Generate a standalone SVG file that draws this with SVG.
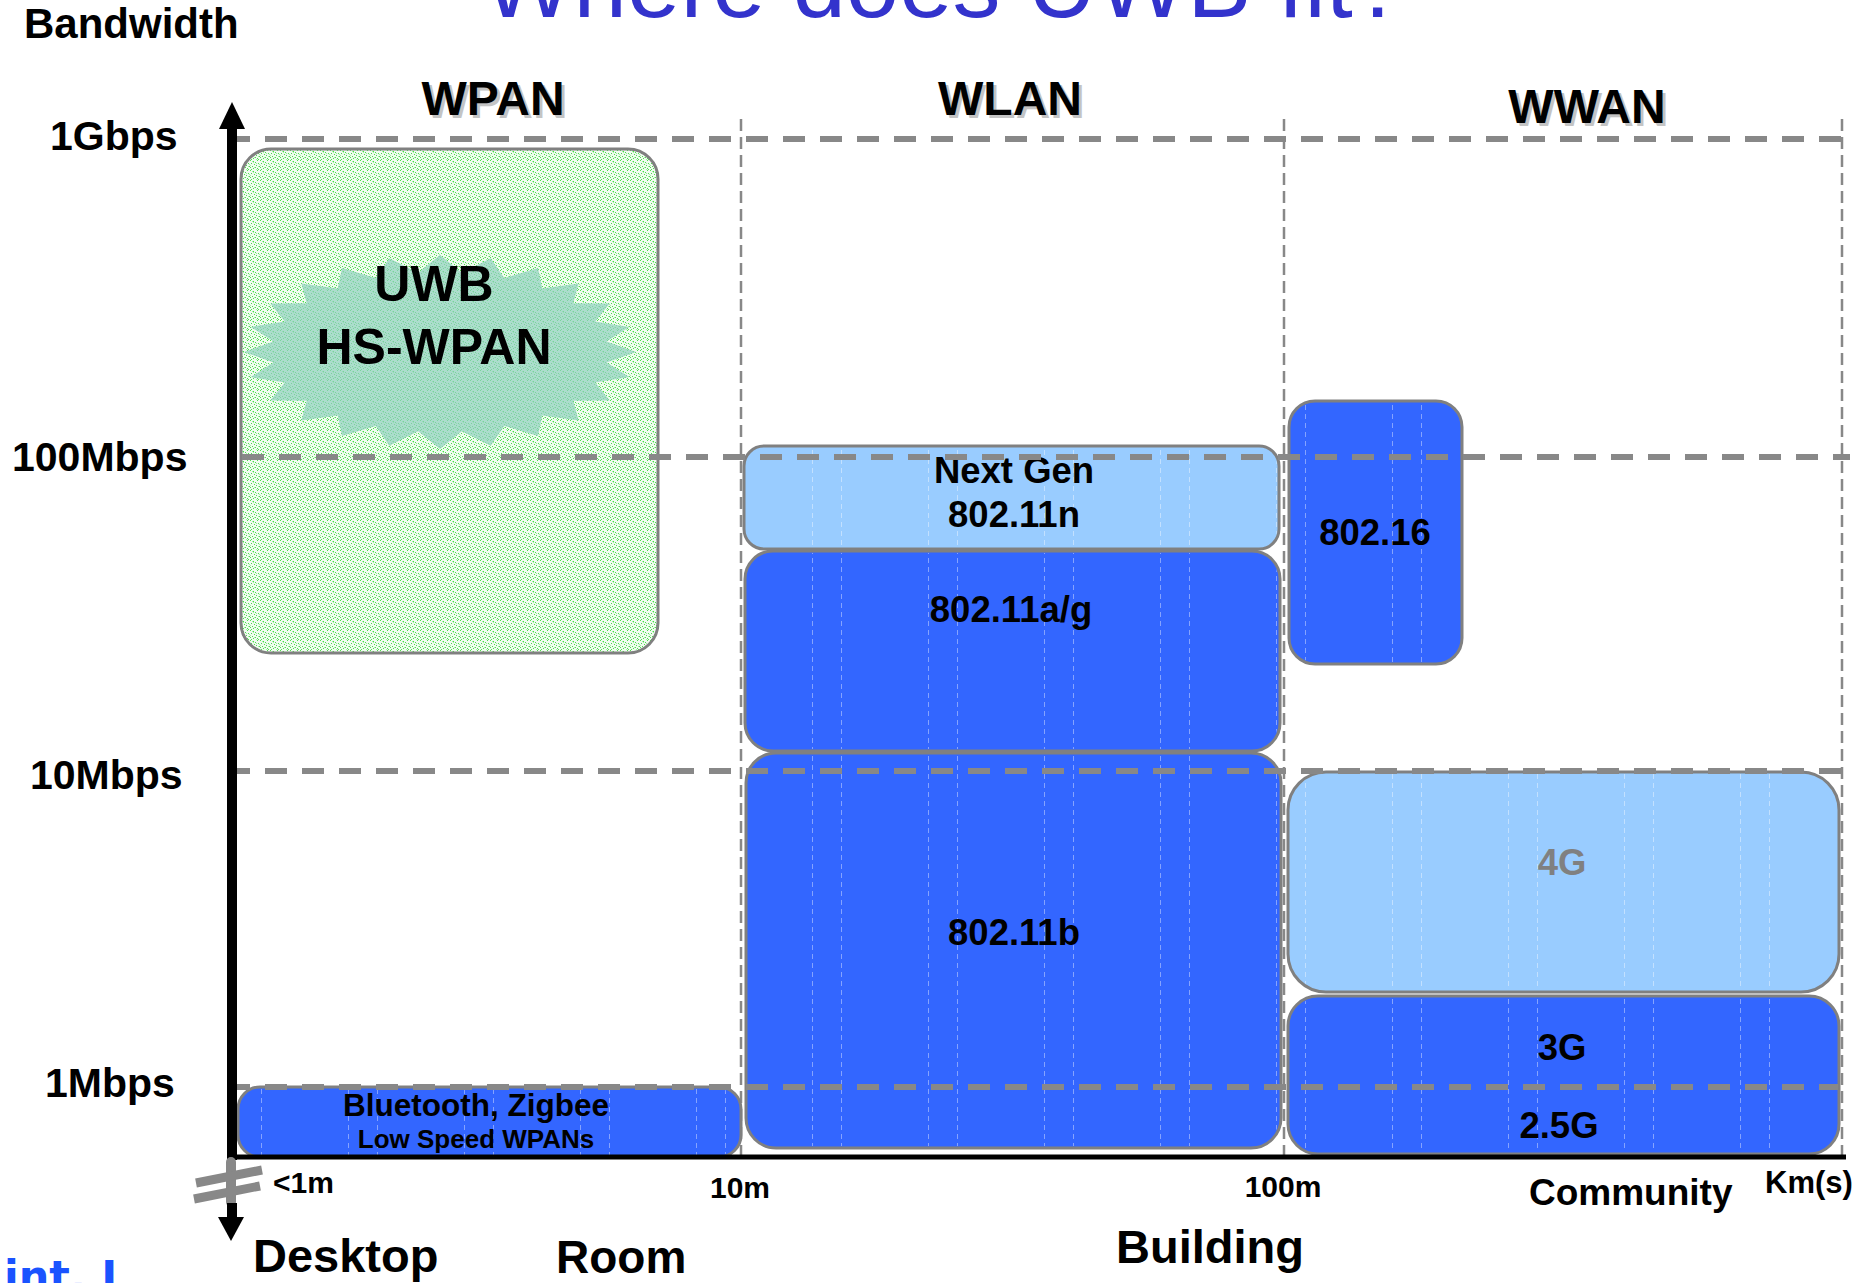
<svg xmlns="http://www.w3.org/2000/svg" width="1866" height="1283" viewBox="0 0 1866 1283">
<defs>
<style>
text{font-family:"Liberation Sans",Arial,Helvetica,sans-serif;font-weight:bold;fill:#000}
.title{font-weight:normal;fill:#3333cc;font-size:96px}
.ylab{font-size:41px}
.hdr{font-size:48px;text-anchor:middle}
.shadow{fill:#c4c4c4}
.lbl{font-size:36.5px;text-anchor:middle}
.xlab{font-size:30px}
.place{font-size:47px}
.box{stroke:#808080;stroke-width:3}
.blue{fill:#3366ff}
.lblue{fill:#99ccff}
.tex{fill:url(#tex);stroke:none}
.hgrid{stroke:#888;stroke-width:6;stroke-dasharray:22 15;fill:none}
.vgrid{stroke:#888;stroke-width:2.5;stroke-dasharray:12 6;fill:none}
.brk{stroke:#888;fill:none}
</style>
<pattern id="speck" width="10" height="10" patternUnits="userSpaceOnUse">
<rect width="10" height="10" fill="#f0fcf0"/>
<path d="M0 0h1v1h-1zM3 1h1v1h-1zM7 0h1v1h-1zM5 2h1v1h-1zM1 3h1v1h-1zM8 3h1v1h-1zM4 4h1v1h-1zM6 5h1v1h-1zM2 6h1v1h-1zM9 6h1v1h-1zM0 7h1v1h-1zM5 7h1v1h-1zM3 8h1v1h-1zM7 8h1v1h-1zM1 9h1v1h-1zM8 9h1v1h-1z" fill="#4ddc4d"/>
<path d="M2 1h1v1h-1zM6 3h1v1h-1zM0 5h1v1h-1zM8 6h1v1h-1zM4 7h1v1h-1zM6 9h1v1h-1zM9 4h1v1h-1zM3 2h1v1h-1z" fill="#a6f0a6"/>
</pattern>
<pattern id="tex" width="116" height="9" patternUnits="userSpaceOnUse">
<path d="M0.5 0v5M29.5 0v5" stroke="#ffffff" stroke-opacity="0.4" stroke-width="1"/>
</pattern>
</defs>
<rect width="1866" height="1283" fill="#ffffff"/>

<g id="title">
<text class="title" x="483" y="17">Where does UWB fit?</text>
</g>

<g id="vertical-grid">
<line class="vgrid" x1="741" y1="119" x2="741" y2="1157"/>
<line class="vgrid" x1="1284" y1="119" x2="1284" y2="1157"/>
<line class="vgrid" x1="1842" y1="119" x2="1842" y2="1157"/>
</g>

<g id="axis-labels">
<text x="24" y="38" style="font-size:42px">Bandwidth</text>
<text class="ylab" x="50" y="150">1Gbps</text>
<text class="ylab" x="12" y="471">100Mbps</text>
<text class="ylab" x="30" y="789">10Mbps</text>
<text class="ylab" x="45" y="1097">1Mbps</text>
<text class="xlab" x="273" y="1193">&lt;1m</text>
<text class="xlab" x="740" y="1198" text-anchor="middle">10m</text>
<text class="xlab" x="1283" y="1197" text-anchor="middle">100m</text>
<text class="xlab" x="1765" y="1193" style="font-size:31px">Km(s)</text>
<text x="1529" y="1205" style="font-size:37px">Community</text>
<text class="place" x="253" y="1272">Desktop</text>
<text class="place" x="556" y="1273" style="font-size:46px">Room</text>
<text class="place" x="1116" y="1263">Building</text>
</g>

<g id="headers">
<text class="hdr shadow" x="496" y="118">WPAN</text>
<text class="hdr" x="493" y="115">WPAN</text>
<text class="hdr shadow" x="1013" y="118">WLAN</text>
<text class="hdr" x="1010" y="115">WLAN</text>
<text class="hdr shadow" x="1590" y="126">WWAN</text>
<text class="hdr" x="1587" y="123">WWAN</text>
</g>

<g id="uwb">
<rect class="box" x="241" y="149" width="417" height="504" rx="30" fill="url(#speck)"/>
<polygon fill="#8fd0bd" fill-opacity="0.7" points="636,352 606.6,362.4 629.3,377.1 595.2,382.6 609.7,400.5 573.3,400.7 578.6,420.6 542.3,415.5 538,436 504.3,425.9 490.7,445.7 461.9,431.3 440,449 418.1,431.3 389.3,445.7 375.7,425.9 342,436 337.7,415.5 301.4,420.6 306.7,400.7 270.3,400.5 284.8,382.6 250.7,377.1 273.4,362.4 244,352 273.4,341.6 250.7,326.9 284.8,321.4 270.3,303.5 306.7,303.3 301.4,283.4 337.7,288.5 342,268 375.7,278.1 389.3,258.3 418.1,272.7 440,255 461.9,272.7 490.7,258.3 504.3,278.1 538,268 542.3,288.5 578.6,283.4 573.3,303.3 609.7,303.5 595.2,321.4 629.3,326.9 606.6,341.6"/>
<text x="434" y="301" style="font-size:50px" text-anchor="middle">UWB</text>
<text x="434" y="364" style="font-size:50px" text-anchor="middle">HS-WPAN</text>
</g>

<g id="n80211n">
<rect class="box lblue" x="744" y="446" width="535" height="103" rx="20"/>
<rect class="tex" x="746" y="448" width="531" height="99" rx="18"/>
<text class="lbl" x="1014" y="483">Next Gen</text>
<text class="lbl" x="1014" y="527">802.11n</text>
</g>

<g id="n80211ag">
<rect class="box blue" x="745" y="551" width="535" height="200" rx="28"/>
<rect class="tex" x="747" y="553" width="531" height="196" rx="26"/>
<text class="lbl" x="1011" y="622">802.11a/g</text>
</g>

<g id="n80211b">
<rect class="box blue" x="746" y="753" width="535" height="395" rx="30"/>
<rect class="tex" x="748" y="755" width="531" height="391" rx="28"/>
<text class="lbl" x="1014" y="945">802.11b</text>
</g>

<g id="bluetooth">
<rect class="box blue" x="238" y="1087" width="503" height="70" rx="22"/>
<rect class="tex" x="240" y="1089" width="499" height="66" rx="20"/>
<text x="476" y="1116" text-anchor="middle" style="font-size:31.5px">Bluetooth, Zigbee</text>
<text x="476" y="1148" text-anchor="middle" style="font-size:26px">Low Speed WPANs</text>
</g>

<g id="n80216">
<rect class="box blue" x="1289" y="401" width="173" height="263" rx="26"/>
<rect class="tex" x="1291" y="403" width="169" height="259" rx="24"/>
<text class="lbl" x="1375" y="545">802.16</text>
</g>

<g id="g4">
<rect class="box lblue" x="1288" y="772" width="551" height="220" rx="38"/>
<rect class="tex" x="1290" y="774" width="547" height="216" rx="36"/>
<text class="lbl" x="1562" y="875" style="fill:#808080">4G</text>
</g>

<g id="g3">
<rect class="box blue" x="1288" y="996" width="551" height="158" rx="30"/>
<rect class="tex" x="1290" y="998" width="547" height="154" rx="28"/>
<text class="lbl" x="1562" y="1060">3G</text>
<text class="lbl" x="1559" y="1138">2.5G</text>
</g>

<g id="horizontal-grid">
<line class="hgrid" x1="228" y1="139" x2="1842" y2="139"/>
<line class="hgrid" x1="242" y1="457" x2="1850" y2="457"/>
<line class="hgrid" x1="228" y1="771" x2="1844" y2="771"/>
<line class="hgrid" x1="228" y1="1087" x2="1838" y2="1087"/>
</g>

<g id="connectors">
<line x1="227" y1="1157" x2="1846" y2="1157" stroke="#000" stroke-width="5"/>
<rect x="227" y="125" width="10" height="1035" fill="#000"/>
<polygon points="232,102 219,129 245,129" fill="#000"/>
<line class="brk" x1="231" y1="1162" x2="231" y2="1202" stroke-width="10" stroke-linecap="round"/>
<line class="brk" x1="196" y1="1183" x2="262" y2="1170" stroke-width="9"/>
<line class="brk" x1="194" y1="1199" x2="260" y2="1186" stroke-width="9"/>
<rect x="227" y="1203" width="10" height="16" fill="#000"/>
<polygon points="218,1217 244,1217 231,1241" fill="#000"/>
</g>

<g id="footer">
<text x="4" y="1291" style="font-family:'DejaVu Sans',Verdana,sans-serif;font-size:43px;fill:#1a53ff">int. I</text>
</g>
</svg>
